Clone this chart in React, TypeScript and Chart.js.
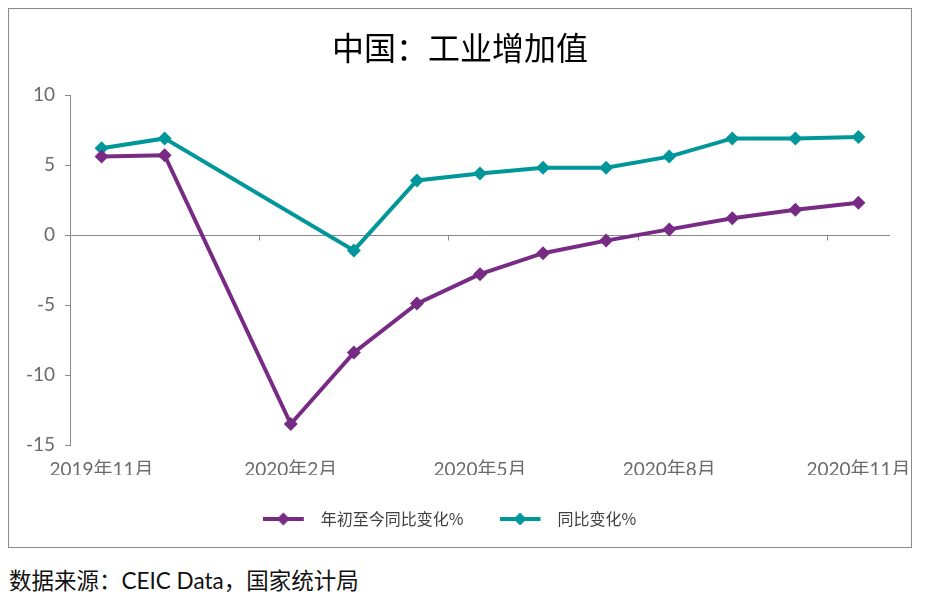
import React, { useEffect, useRef } from 'react';
import { Chart, registerables } from 'chart.js';

Chart.register(...registerables);

const months = [
  '2019年11月', '2019年12月', '2020年1月', '2020年2月', '2020年3月', '2020年4月', '2020年5月',
  '2020年6月', '2020年7月', '2020年8月', '2020年9月', '2020年10月', '2020年11月',
];
const ytdYoY: (number | null)[] = [5.6, 5.7, null, -13.5, -8.4, -4.9, -2.8, -1.3, -0.4, 0.4, 1.2, 1.8, 2.3];
const monthlyYoY: (number | null)[] = [6.2, 6.9, null, null, -1.1, 3.9, 4.4, 4.8, 4.8, 5.6, 6.9, 6.9, 7.0];
const seriesNames = ['年初至今同比变化%', '同比变化%'];
const seriesColors = ['#782B84', '#00979A'];
const yMin = -15;
const yMax = 10;
const yStep = 5;
const labelEvery = 3;
const titleText = '中国：工业增加值';
const sourceText = '数据来源：CEIC Data，国家统计局';

const AXIS_GRAY = '#8a8a8a';
const TICK_GRAY = '#6b6b6b';

function makeLegendSwatch(color: string): HTMLCanvasElement {
  const c = document.createElement('canvas');
  c.width = 50;
  c.height = 16;
  const ctx = c.getContext('2d')!;
  ctx.strokeStyle = color;
  ctx.lineWidth = 4;
  ctx.beginPath();
  ctx.moveTo(0, 8);
  ctx.lineTo(41, 8);
  ctx.stroke();
  ctx.fillStyle = color;
  ctx.beginPath();
  ctx.moveTo(20.5, 1.5);
  ctx.lineTo(27, 8);
  ctx.lineTo(20.5, 14.5);
  ctx.lineTo(14, 8);
  ctx.closePath();
  ctx.fill();
  return c;
}

const xTickMarks = {
  id: 'xTickMarks',
  afterLayout(chart: any) {
    // centre the legend under the plot area's span rather than the whole canvas
    if (chart.legend) {
      chart.legend.right = chart.chartArea.right;
    }
  },
  beforeDatasetsDraw(chart: any) {
    const xs = chart.scales.x;
    const ys = chart.scales.y;
    const ctx = chart.ctx;
    const y0 = Math.round(ys.getPixelForValue(0)) + 0.5;
    ctx.save();
    ctx.strokeStyle = AXIS_GRAY;
    ctx.lineWidth = 1;
    for (let i = 1; i < months.length; i++) {
      if (i % labelEvery !== 0) continue;
      const px = Math.round((xs.getPixelForValue(i - 1) + xs.getPixelForValue(i)) / 2) + 0.5;
      ctx.beginPath();
      ctx.moveTo(px, y0);
      ctx.lineTo(px, y0 + 5);
      ctx.stroke();
    }
    ctx.restore();
  },
};

function LineChart() {
  const ref = useRef<HTMLCanvasElement | null>(null);
  useEffect(() => {
    if (!ref.current) return;
    const swatches = seriesColors.map(makeLegendSwatch);
    const dataSets = [ytdYoY, monthlyYoY];
    const chart = new Chart(ref.current, {
      type: 'line',
      data: {
        labels: months,
        datasets: dataSets.map((d, i) => ({
          label: seriesNames[i],
          data: d,
          borderColor: seriesColors[i],
          backgroundColor: seriesColors[i],
          borderWidth: 4,
          pointStyle: 'rectRot',
          pointRadius: 7,
          pointBorderWidth: 0,
          pointBackgroundColor: seriesColors[i],
          spanGaps: true,
          tension: 0,
        })),
      },
      plugins: [xTickMarks],
      options: {
        responsive: false,
        animation: false,
        layout: { padding: { left: 0, right: 0, top: 0, bottom: 10 } },
        plugins: {
          title: {
            display: true,
            text: titleText,
            color: '#000',
            font: { size: 32, family: "'Noto Sans CJK SC', sans-serif", weight: 'normal' },
            padding: { top: 19.3, bottom: 28.3 },
          },
          legend: {
            position: 'bottom',
            labels: {
              usePointStyle: true,
              pointStyleWidth: 50,
              padding: 36,
              color: '#404040',
              font: { size: 16, family: "'Noto Sans CJK SC', sans-serif" },
              generateLabels: (ch: any) => {
                const base = Chart.defaults.plugins.legend.labels.generateLabels(ch);
                return base.map((it: any, i: number) => ({ ...it, pointStyle: swatches[i] }));
              },
            },
          },
          tooltip: { enabled: false },
        },
        scales: {
          x: {
            type: 'category',
            offset: true,
            grid: { display: false, drawTicks: false },
            border: { display: false },
            afterFit: (s: any) => { s.height = 30; s.paddingLeft = 0; s.paddingRight = 21; },
            ticks: {
              autoSkip: false,
              maxRotation: 0,
              padding: 13,
              color: TICK_GRAY,
              font: { size: 19, family: "Lato, 'Noto Sans CJK SC', sans-serif" },
              callback: (_v: any, i: number) => (i % labelEvery === 0 ? months[i] : ''),
            },
          },
          y: {
            min: yMin,
            max: yMax,
            afterFit: (s: any) => { s.width = 61; },
            border: { display: true, color: AXIS_GRAY, width: 1 },
            grid: {
              color: (c: any) => (c.tick && c.tick.value === 0 ? AXIS_GRAY : 'rgba(0,0,0,0)'),
              tickColor: AXIS_GRAY,
              tickLength: 5,
              lineWidth: 1,
            },
            ticks: {
              stepSize: yStep,
              padding: 10,
              color: TICK_GRAY,
              font: { size: 19, family: "Lato, 'Noto Sans CJK SC', sans-serif" },
            },
          },
        },
      },
    });
    return () => chart.destroy();
  }, []);
  return <canvas ref={ref} width={902} height={538} style={{ display: 'block' }} />;
}

export default function App() {
  return (
    <div>
      <div style={{ width: 904, height: 540, border: '1px solid #8a8a8a', boxSizing: 'border-box', position: 'relative' }}>
        <LineChart />
      </div>
      <div
        style={{
          marginTop: 19,
          marginLeft: 1,
          fontSize: 22.5,
          lineHeight: '27px',
          color: '#111',
          fontFamily: "Lato, 'Noto Sans CJK SC', sans-serif",
        }}
      >
        {sourceText}
      </div>
    </div>
  );
}
